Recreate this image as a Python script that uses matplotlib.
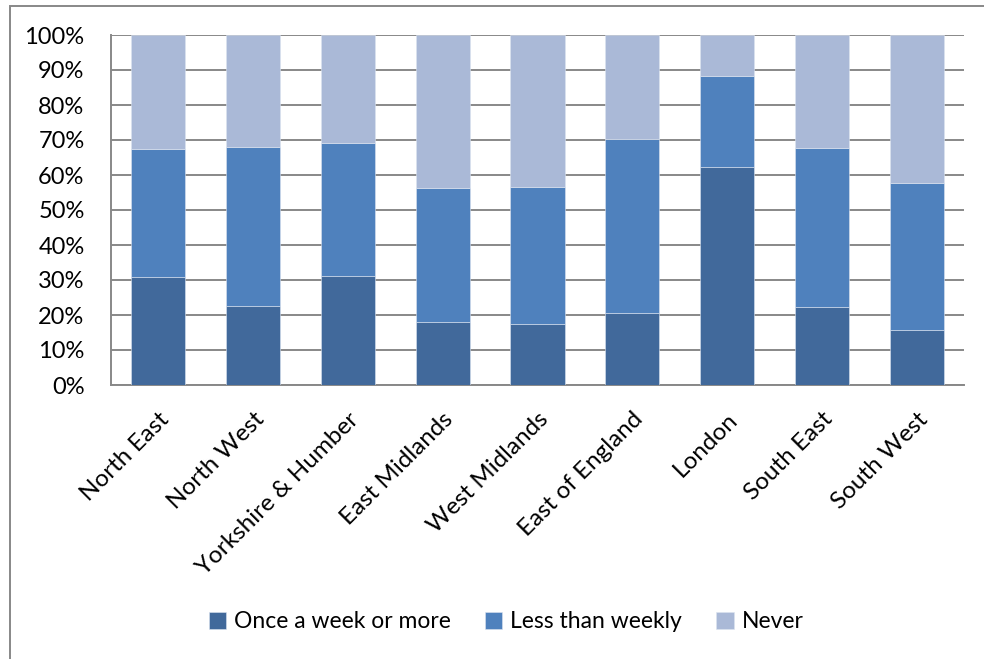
import matplotlib.pyplot as plt
from matplotlib.patches import Rectangle
from matplotlib.ticker import PercentFormatter

plt.rcParams['font.family'] = ['Lato', 'DejaVu Sans']

regions = ['North East', 'North West', 'Yorkshire & Humber', 'East Midlands',
           'West Midlands', 'East of England', 'London', 'South East', 'South West']
weekly = [31.0, 22.7, 31.2, 18.0, 17.5, 20.5, 62.2, 22.2, 15.8]
less_weekly = [36.4, 45.3, 37.9, 38.4, 39.2, 49.8, 26.1, 45.4, 41.9]
never = [32.6, 32.0, 30.9, 43.6, 43.3, 29.7, 11.7, 32.4, 42.3]

series = ['Once a week or more', 'Less than weekly', 'Never']
colors = ['#41699B', '#4F81BD', '#AAB9D7']

dpi = 100
fig = plt.figure(figsize=(984 / dpi, 659 / dpi), dpi=dpi)
ax = fig.add_axes([111 / 984, 1 - 385 / 659, (964 - 111) / 984, (385 - 35) / 659])

x = range(len(regions))
bottom = [0] * len(regions)
for name, vals, c in zip(series, [weekly, less_weekly, never], colors):
    ax.bar(x, vals, 0.57, bottom=bottom, color=c, label=name,
           edgecolor='#DCE4F0', linewidth=0.4, zorder=3)
    bottom = [b + v for b, v in zip(bottom, vals)]

ax.set_xlim(-0.5, len(regions) - 0.5)
ax.set_ylim(0, 100)
ax.set_yticks(range(0, 101, 10))
ax.yaxis.set_major_formatter(PercentFormatter(decimals=0))
ax.grid(axis='y', color='#888888', linewidth=1.4, zorder=0)
ax.set_xticks(list(x))
ax.set_xticklabels(regions, rotation=45, ha='right', va='top',
                   rotation_mode='anchor', fontsize=17.5)
ax.tick_params(axis='both', length=0)
ax.tick_params(axis='y', labelsize=17, pad=19)
ax.tick_params(axis='x', pad=17)
for s in ['top', 'right']:
    ax.spines[s].set_visible(False)
for s in ['left', 'bottom']:
    ax.spines[s].set_color('#888888')
    ax.spines[s].set_linewidth(1.4)

fig.legend(loc='center', bbox_to_anchor=(506 / 984, 1 - 622 / 659), ncol=3,
           frameon=False, fontsize=16.5, handlelength=0.75, handleheight=0.75,
           columnspacing=1.5, handletextpad=0.35)

# chart border, clipped at right and bottom
fig.patches.append(Rectangle((10 / 984, -0.05), 1.2, 1.05 - 6 / 659,
                             transform=fig.transFigure, fill=False,
                             edgecolor='#888888', linewidth=1.4))

fig.savefig('out.png', dpi=dpi)
